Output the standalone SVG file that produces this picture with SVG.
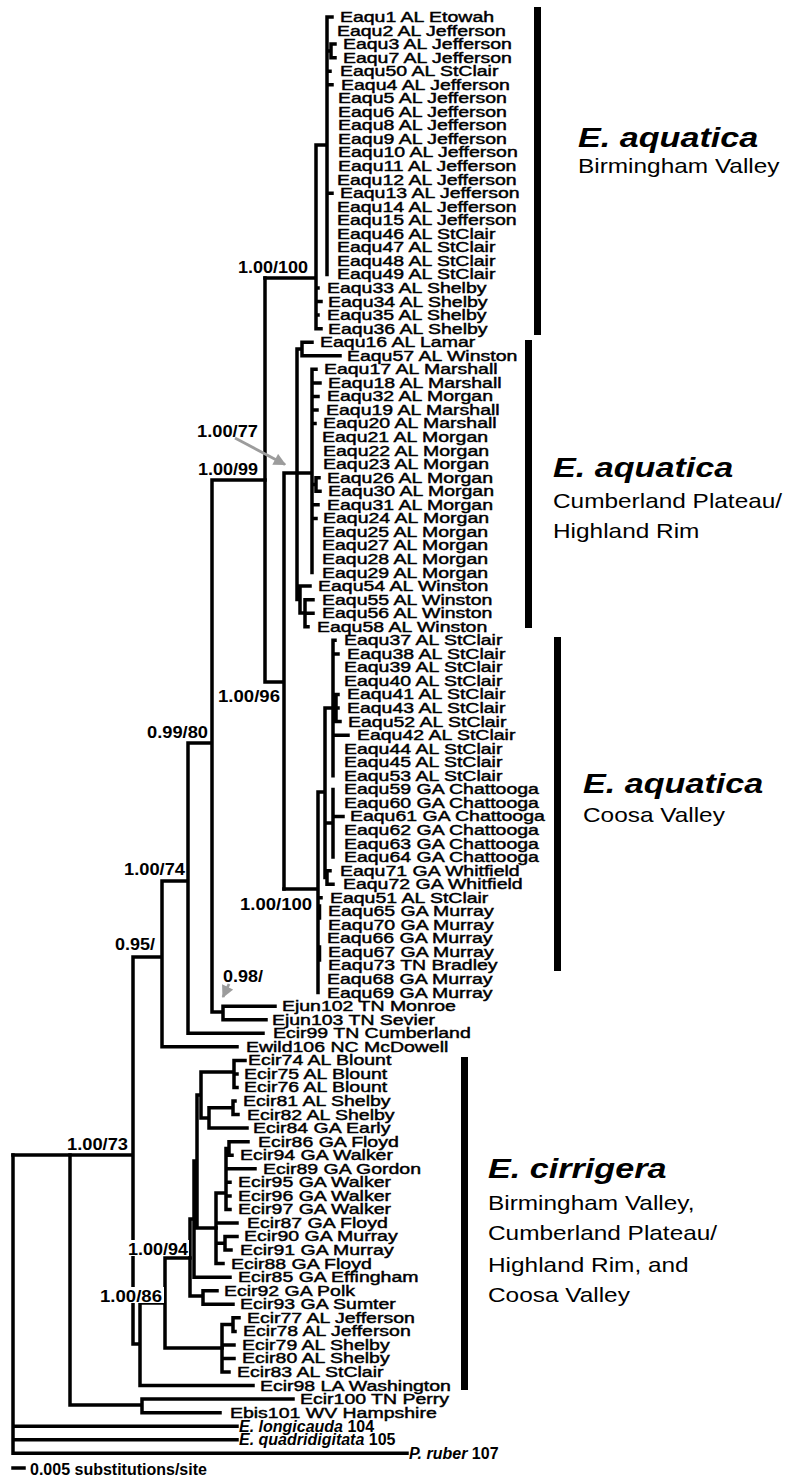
<svg xmlns="http://www.w3.org/2000/svg" width="799" height="1483" viewBox="0 0 799 1483">
<style>
.br{stroke:#000;stroke-width:3.5;fill:none;stroke-linecap:square}
.lf{font-family:"Liberation Sans",Arial,sans-serif;font-size:15px;fill:#000;stroke:#000;stroke-width:0.45}
.bs{font-family:"Liberation Sans",Arial,sans-serif;font-size:16.5px;font-weight:bold;fill:#000}
.og{font-family:"Liberation Sans",Arial,sans-serif;font-size:16px;font-weight:bold;fill:#000}
.ct{font-family:"Liberation Sans",Arial,sans-serif;font-size:28px;font-weight:bold;font-style:italic;fill:#000}
.cs{font-family:"Liberation Sans",Arial,sans-serif;font-size:20px;fill:#000}
.bar{fill:#000}
.ar{stroke:#9c9c9c;stroke-width:2.8;fill:none}
</style>
<defs>
<marker id="ah" viewBox="0 0 10 10" refX="9" refY="5" markerWidth="5" markerHeight="4.4" orient="auto" markerUnits="strokeWidth">
<path d="M0 0 L10 5 L0 10 z" fill="#9c9c9c"/>
</marker>
</defs>
<rect width="799" height="1483" fill="#fff"/>
<g id="connectors">
<path class="br" d="M327 17V274.5M327 17H332M327 51H331M331 44.1V57.7M331 44.1H335M331 57.7H335M327 71.2H330M327 84.8H332M327 193.2H332M316 145H327M316 145V328.7M316 288H318M316 301.6H321M316 315.1H318M316 328.7H321M265 278H316"/>
<path class="br" d="M265 278V682M265 682H284M284 473V889M284 473H312M297 349V599.6M297 349H302M302 342.2V355.8M302 342.2H312M302 355.8H340M312 369.3V572.6M312 369.3H316M312 382.9H320M312 396.4H318M312 410H317M312 423.5H315M312 484.5H316M316 477.7V491.3M316 477.7H319M316 491.3H320M312 504.8H318M312 518.4H316M297 599.6H300M300 586.1V613M300 586.1H310M300 613H305M305 599.7V626.8M305 599.7H313M305 613.2H313M305 626.8H308"/>
<path class="br" d="M284 889H318M318 792V992.6M318 792H325M325 708V877.5M325 708H333M333 640.3V775.8M333 640.3H335M333 653.9H338M333 694.5H338M336 694.5V721.6M333 708.1H338M333 721.6H340M333 735.2H348M325 823H333M333 789.4V857.1M333 816.5H343M325 877.5H327M327 870.7V884.2M327 870.7H330M327 884.2H333M318 897.8H321M319.5 906V918M319.5 947V960"/>
<path class="br" d="M212 480H265M212 480V1012M212 1012H223M223 1006.2V1019.7M223 1006.2H275M223 1019.7H266M188 743H212M188 743V1033.3M188 1033.3H263M162 881H188M162 881V1046.8M162 1046.8H237M133 957H162M133 957V1344M13 1155H133M133 1344H140M140 1303V1385.6M140 1385.6H253M140 1303H165M165 1258V1348M165 1258H190M165 1348H222"/>
<path class="br" d="M222 1324.6V1372M222 1324.6H233M233 1317.8V1331.4M233 1317.8H239M233 1331.4H235M222 1344.9H234M222 1358.5H234M222 1372H229M190 1219V1296M190 1219H194M190 1296H203M203 1290.7V1304.3M203 1290.7H217M203 1304.3H233M194 1161V1277.2M194 1161H197M194 1277.2H230M197 1095V1228M197 1095H201M197 1228H216M201 1072V1118M201 1072H234M201 1118H209M234 1060.4V1087.5M234 1060.4H245M234 1073.9H237M234 1087.5H237M209 1107.8V1128.1M209 1107.8H233M233 1101V1114.6M233 1101H235M233 1114.6H238M209 1128.1H247"/>
<path class="br" d="M216 1193V1263.6M216 1193H226M216 1223H237M216 1243.3H225M225 1236.5V1250.1M225 1236.5H237M225 1250.1H231M216 1263.6H223M226 1148.5V1209.4M226 1148.5H229M229 1141.7V1155.2M229 1141.7H248M229 1155.2H232M226 1168.8H255M226 1182.3H230M226 1195.9H230M226 1209.4H230"/>
<path class="br" d="M70 1155V1405M70 1405H142M142 1399.1V1412.7M142 1399.1H293M142 1412.7H220M13 1155V1453.3M13 1426.2H237M13 1439.8H237M13 1453.3H407"/>
<path class="ar" d="M235 438L285 464.5" marker-end="url(#ah)"/>
<path class="ar" d="M229 984L223 997" marker-end="url(#ah)"/>
</g>
<g id="support-labels">
<text class="bs" x="238" y="273" textLength="70" lengthAdjust="spacingAndGlyphs">1.00/100</text>
<text class="bs" x="198" y="475" textLength="60" lengthAdjust="spacingAndGlyphs">1.00/99</text>
<text class="bs" x="197" y="437" textLength="61" lengthAdjust="spacingAndGlyphs">1.00/77</text>
<text class="bs" x="218" y="702" textLength="62" lengthAdjust="spacingAndGlyphs">1.00/96</text>
<text class="bs" x="147" y="738" textLength="61" lengthAdjust="spacingAndGlyphs">0.99/80</text>
<text class="bs" x="240" y="910" textLength="72" lengthAdjust="spacingAndGlyphs">1.00/100</text>
<text class="bs" x="124" y="875" textLength="61" lengthAdjust="spacingAndGlyphs">1.00/74</text>
<text class="bs" x="115" y="950" textLength="40" lengthAdjust="spacingAndGlyphs">0.95/</text>
<text class="bs" x="223" y="982" textLength="40" lengthAdjust="spacingAndGlyphs">0.98/</text>
<text class="bs" x="67" y="1150" textLength="61" lengthAdjust="spacingAndGlyphs">1.00/73</text>
<rect x="126" y="1240" width="63" height="16" fill="#fff"/>
<text class="bs" x="128" y="1255" textLength="60" lengthAdjust="spacingAndGlyphs">1.00/94</text>
<rect x="98" y="1287" width="66" height="16" fill="#fff"/>
<text class="bs" x="100" y="1302" textLength="62" lengthAdjust="spacingAndGlyphs">1.00/86</text>
</g>
<g id="leaves" transform="scale(1.3 1)">
<g id="n1"><text class="lf" x="261.5" y="22">Eaqu1 AL Etowah</text></g>
<g id="n2"><text class="lf" x="259.2" y="35.6">Eaqu2 AL Jefferson</text></g>
<g id="n3"><text class="lf" x="263.8" y="49.1">Eaqu3 AL Jefferson</text></g>
<g id="n7"><text class="lf" x="263.8" y="62.7">Eaqu7 AL Jefferson</text></g>
<g id="n50"><text class="lf" x="261.5" y="76.2">Eaqu50 AL StClair</text></g>
<g id="n4"><text class="lf" x="262.3" y="89.8">Eaqu4 AL Jefferson</text></g>
<g id="n5"><text class="lf" x="260" y="103.3">Eaqu5 AL Jefferson</text></g>
<g id="n6"><text class="lf" x="260" y="116.9">Eaqu6 AL Jefferson</text></g>
<g id="n8"><text class="lf" x="260" y="130.4">Eaqu8 AL Jefferson</text></g>
<g id="n9"><text class="lf" x="260" y="144">Eaqu9 AL Jefferson</text></g>
<g id="n10"><text class="lf" x="260" y="157.5">Eaqu10 AL Jefferson</text></g>
<g id="n11"><text class="lf" x="260" y="171.1">Eaqu11 AL Jefferson</text></g>
<g id="n12"><text class="lf" x="259.2" y="184.6">Eaqu12 AL Jefferson</text></g>
<g id="n13"><text class="lf" x="261.5" y="198.2">Eaqu13 AL Jefferson</text></g>
<g id="n14"><text class="lf" x="259.2" y="211.7">Eaqu14 AL Jefferson</text></g>
<g id="n15"><text class="lf" x="259.2" y="225.3">Eaqu15 AL Jefferson</text></g>
<g id="n46"><text class="lf" x="259.2" y="238.8">Eaqu46 AL StClair</text></g>
<g id="n47"><text class="lf" x="259.2" y="252.4">Eaqu47 AL StClair</text></g>
<g id="n48"><text class="lf" x="259.2" y="265.9">Eaqu48 AL StClair</text></g>
<g id="n49"><text class="lf" x="259.2" y="279.5">Eaqu49 AL StClair</text></g>
<g id="n33"><text class="lf" x="251.5" y="293">Eaqu33 AL Shelby</text></g>
<g id="n34"><text class="lf" x="252.3" y="306.6">Eaqu34 AL Shelby</text></g>
<g id="n35"><text class="lf" x="251.5" y="320.1">Eaqu35 AL Shelby</text></g>
<g id="n36"><text class="lf" x="252.3" y="333.7">Eaqu36 AL Shelby</text></g>
<g id="n16"><text class="lf" x="246.2" y="347.2">Eaqu16 AL Lamar</text></g>
<g id="n57"><text class="lf" x="266.9" y="360.8">Eaqu57 AL Winston</text></g>
<g id="n17"><text class="lf" x="249.2" y="374.3">Eaqu17 AL Marshall</text></g>
<g id="n18"><text class="lf" x="252.3" y="387.9">Eaqu18 AL Marshall</text></g>
<g id="n32"><text class="lf" x="251.5" y="401.4">Eaqu32 AL Morgan</text></g>
<g id="n19"><text class="lf" x="250.8" y="415">Eaqu19 AL Marshall</text></g>
<g id="n20"><text class="lf" x="248.5" y="428.5">Eaqu20 AL Marshall</text></g>
<g id="n21"><text class="lf" x="247.7" y="442.1">Eaqu21 AL Morgan</text></g>
<g id="n22"><text class="lf" x="248.5" y="455.6">Eaqu22 AL Morgan</text></g>
<g id="n23"><text class="lf" x="248.5" y="469.2">Eaqu23 AL Morgan</text></g>
<g id="n26"><text class="lf" x="251.5" y="482.7">Eaqu26 AL Morgan</text></g>
<g id="n30"><text class="lf" x="252.3" y="496.3">Eaqu30 AL Morgan</text></g>
<g id="n31"><text class="lf" x="251.5" y="509.8">Eaqu31 AL Morgan</text></g>
<g id="n24"><text class="lf" x="248.5" y="523.4">Eaqu24 AL Morgan</text></g>
<g id="n25"><text class="lf" x="247.7" y="536.9">Eaqu25 AL Morgan</text></g>
<g id="n27"><text class="lf" x="247.7" y="550.5">Eaqu27 AL Morgan</text></g>
<g id="n28"><text class="lf" x="247.7" y="564">Eaqu28 AL Morgan</text></g>
<g id="n29"><text class="lf" x="247.7" y="577.6">Eaqu29 AL Morgan</text></g>
<g id="n54"><text class="lf" x="244.6" y="591.1">Eaqu54 AL Winston</text></g>
<g id="n55"><text class="lf" x="247.7" y="604.7">Eaqu55 AL Winston</text></g>
<g id="n56"><text class="lf" x="247.7" y="618.2">Eaqu56 AL Winston</text></g>
<g id="n58"><text class="lf" x="243.8" y="631.8">Eaqu58 AL Winston</text></g>
<g id="n37"><text class="lf" x="264.6" y="645.3">Eaqu37 AL StClair</text></g>
<g id="n38"><text class="lf" x="266.9" y="658.9">Eaqu38 AL StClair</text></g>
<g id="n39"><text class="lf" x="264.6" y="672.4">Eaqu39 AL StClair</text></g>
<g id="n40"><text class="lf" x="264.6" y="686">Eaqu40 AL StClair</text></g>
<g id="n41"><text class="lf" x="266.9" y="699.5">Eaqu41 AL StClair</text></g>
<g id="n43"><text class="lf" x="266.9" y="713.1">Eaqu43 AL StClair</text></g>
<g id="n52"><text class="lf" x="267.7" y="726.6">Eaqu52 AL StClair</text></g>
<g id="n42"><text class="lf" x="274.6" y="740.2">Eaqu42 AL StClair</text></g>
<g id="n44"><text class="lf" x="264.6" y="753.7">Eaqu44 AL StClair</text></g>
<g id="n45"><text class="lf" x="264.6" y="767.3">Eaqu45 AL StClair</text></g>
<g id="n53"><text class="lf" x="264.6" y="780.8">Eaqu53 AL StClair</text></g>
<g id="n59"><text class="lf" x="264.6" y="794.4">Eaqu59 GA Chattooga</text></g>
<g id="n60"><text class="lf" x="264.6" y="807.9">Eaqu60 GA Chattooga</text></g>
<g id="n61"><text class="lf" x="269.2" y="821.5">Eaqu61 GA Chattooga</text></g>
<g id="n62"><text class="lf" x="264.6" y="835">Eaqu62 GA Chattooga</text></g>
<g id="n63"><text class="lf" x="264.6" y="848.6">Eaqu63 GA Chattooga</text></g>
<g id="n64"><text class="lf" x="264.6" y="862.1">Eaqu64 GA Chattooga</text></g>
<g id="n71"><text class="lf" x="261.5" y="875.7">Eaqu71 GA Whitfield</text></g>
<g id="n72"><text class="lf" x="263.8" y="889.2">Eaqu72 GA Whitfield</text></g>
<g id="n51"><text class="lf" x="253.8" y="902.8">Eaqu51 AL StClair</text></g>
<g id="n65"><text class="lf" x="252.3" y="916.3">Eaqu65 GA Murray</text></g>
<g id="n70"><text class="lf" x="252.3" y="929.9">Eaqu70 GA Murray</text></g>
<g id="n66"><text class="lf" x="251.5" y="943.4">Eaqu66 GA Murray</text></g>
<g id="n67"><text class="lf" x="252.3" y="957">Eaqu67 GA Murray</text></g>
<g id="n73"><text class="lf" x="252.3" y="970.5">Eaqu73 TN Bradley</text></g>
<g id="n68"><text class="lf" x="251.5" y="984.1">Eaqu68 GA Murray</text></g>
<g id="n69"><text class="lf" x="251.5" y="997.6">Eaqu69 GA Murray</text></g>
<g id="j102"><text class="lf" x="216.9" y="1011.2">Ejun102 TN Monroe</text></g>
<g id="j103"><text class="lf" x="209.2" y="1024.7">Ejun103 TN Sevier</text></g>
<g id="c99"><text class="lf" x="210" y="1038.3">Ecir99 TN Cumberland</text></g>
<g id="w106"><text class="lf" x="189.2" y="1051.8">Ewild106 NC McDowell</text></g>
<g id="c74"><text class="lf" x="190.8" y="1065.4">Ecir74 AL Blount</text></g>
<g id="c75"><text class="lf" x="187.7" y="1078.9">Ecir75 AL Blount</text></g>
<g id="c76"><text class="lf" x="187.7" y="1092.5">Ecir76 AL Blount</text></g>
<g id="c81"><text class="lf" x="186.9" y="1106">Ecir81 AL Shelby</text></g>
<g id="c82"><text class="lf" x="190" y="1119.6">Ecir82 AL Shelby</text></g>
<g id="c84"><text class="lf" x="194.6" y="1133.1">Ecir84 GA Early</text></g>
<g id="c86"><text class="lf" x="198.5" y="1146.7">Ecir86 GA Floyd</text></g>
<g id="c94"><text class="lf" x="184.6" y="1160.2">Ecir94 GA Walker</text></g>
<g id="c89"><text class="lf" x="202.3" y="1173.8">Ecir89 GA Gordon</text></g>
<g id="c95"><text class="lf" x="183.1" y="1187.3">Ecir95 GA Walker</text></g>
<g id="c96"><text class="lf" x="183.1" y="1200.9">Ecir96 GA Walker</text></g>
<g id="c97"><text class="lf" x="183.1" y="1214.4">Ecir97 GA Walker</text></g>
<g id="c87"><text class="lf" x="190" y="1228">Ecir87 GA Floyd</text></g>
<g id="c90"><text class="lf" x="187.7" y="1241.5">Ecir90 GA Murray</text></g>
<g id="c91"><text class="lf" x="184.6" y="1255.1">Ecir91 GA Murray</text></g>
<g id="c88"><text class="lf" x="177.7" y="1268.6">Ecir88 GA Floyd</text></g>
<g id="c85"><text class="lf" x="183.1" y="1282.2">Ecir85 GA Effingham</text></g>
<g id="c92"><text class="lf" x="172.3" y="1295.7">Ecir92 GA Polk</text></g>
<g id="c93"><text class="lf" x="184.6" y="1309.3">Ecir93 GA Sumter</text></g>
<g id="c77"><text class="lf" x="190" y="1322.8">Ecir77 AL Jefferson</text></g>
<g id="c78"><text class="lf" x="186.9" y="1336.4">Ecir78 AL Jefferson</text></g>
<g id="c79"><text class="lf" x="186.2" y="1349.9">Ecir79 AL Shelby</text></g>
<g id="c80"><text class="lf" x="186.2" y="1363.5">Ecir80 AL Shelby</text></g>
<g id="c83"><text class="lf" x="182.3" y="1377">Ecir83 AL StClair</text></g>
<g id="c98"><text class="lf" x="200" y="1390.6">Ecir98 LA Washington</text></g>
<g id="c100"><text class="lf" x="230.8" y="1404.1">Ecir100 TN Perry</text></g>
<g id="b101"><text class="lf" x="176.9" y="1417.7">Ebis101 WV Hampshire</text></g>
</g>
<g id="outgroups">
<g id="long104"><text class="og" x="239" y="1431.7"><tspan font-style="italic">E. longicauda</tspan> 104</text></g>
<g id="quad105"><text class="og" x="239" y="1445.3"><tspan font-style="italic">E. quadridigitata</tspan> 105</text></g>
<g id="rub107"><text class="og" x="409" y="1458.8"><tspan font-style="italic">P. ruber</tspan> 107</text></g>
</g>
<g id="clade-bars">
<rect class="bar" x="534" y="7" width="7" height="328"/>
<rect class="bar" x="525" y="340" width="7" height="288"/>
<rect class="bar" x="554" y="637" width="7" height="334"/>
<rect class="bar" x="461" y="1057" width="7" height="333"/>
</g>
<g id="clade-bv" transform="translate(578 0) scale(1.22 1)">
<text class="ct" x="0" y="147">E. aquatica</text>
<text class="cs" x="0" y="173">Birmingham Valley</text>
</g>
<g id="clade-cp" transform="translate(553 0) scale(1.22 1)">
<text class="ct" x="0" y="477">E. aquatica</text>
<text class="cs" x="0" y="508">Cumberland Plateau/</text>
<text class="cs" x="0" y="538">Highland Rim</text>
</g>
<g id="clade-cv" transform="translate(583 0) scale(1.22 1)">
<text class="ct" x="0" y="793">E. aquatica</text>
<text class="cs" x="0" y="822">Coosa Valley</text>
</g>
<g id="clade-cir" transform="translate(488 0) scale(1.22 1)">
<text class="ct" x="0" y="1178">E. cirrigera</text>
<text class="cs" x="0" y="1210">Birmingham Valley,</text>
<text class="cs" x="0" y="1240">Cumberland Plateau/</text>
<text class="cs" x="0" y="1272">Highland Rim, and</text>
<text class="cs" x="0" y="1302">Coosa Valley</text>
</g>
<g id="scale">
<path class="br" d="M13 1468H24"/>
<text class="og" x="30" y="1475" font-size="16.5">0.005 substitutions/site</text>
</g>
</svg>
